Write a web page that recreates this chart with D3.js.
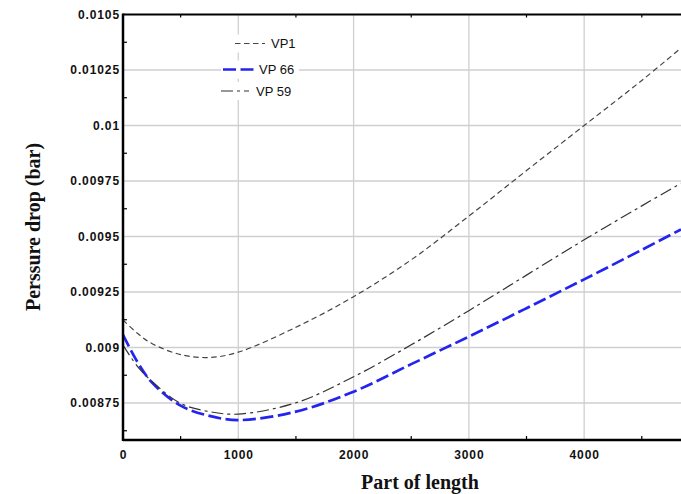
<!DOCTYPE html>
<html>
<head>
<meta charset="utf-8">
<script src="https://cdn.jsdelivr.net/npm/d3@7"></script>
<style>
  body { margin: 0; background: #fff; }
  svg { display: block; }
  .tick-label { font-family: "Liberation Sans", Arial, sans-serif; font-weight: bold; font-size: 12px; letter-spacing: 0.9px; fill: #111; }
  .axis-title { font-family: "Liberation Serif", "Times New Roman", serif; font-weight: bold; font-size: 20px; fill: #111; }
  .legend-text { font-family: "Liberation Sans", Arial, sans-serif; font-size: 13px; fill: #111; }
</style>
</head>
<body>
<svg id="chart"></svg>
<script>
//data
const xs = [0, 125, 250, 500, 750, 1000, 1500, 2000, 2500, 3000, 3500, 4000, 4500, 4840];
const vp1 = [0.009124, 0.009064, 0.009018, 0.008968, 0.008955, 0.008979, 0.009091, 0.009229, 0.009395, 0.009592, 0.009797, 0.010000, 0.010203, 0.010349];
const vp66 = [0.009057, 0.008935, 0.008843, 0.008738, 0.008692, 0.008673, 0.008711, 0.008801, 0.008925, 0.009049, 0.009177, 0.009307, 0.009440, 0.009532];
const vp59 = [0.009011, 0.008915, 0.008848, 0.008748, 0.008711, 0.008700, 0.008751, 0.008868, 0.009012, 0.009166, 0.009326, 0.009485, 0.009638, 0.009740];

const xTicks = [0, 1000, 2000, 3000, 4000];
const xTickLabels = ["0", "1000", "2000", "3000", "4000"];
const xMinorTicks = [500, 1500, 2500, 3500, 4500];
const yTicks = [0.00875, 0.009, 0.00925, 0.0095, 0.00975, 0.01, 0.01025, 0.0105];
const yTickLabels = ["0.00875", "0.009", "0.00925", "0.0095", "0.00975", "0.01", "0.01025", "0.0105"];
const yMinorTicks = [0.008625, 0.008875, 0.009125, 0.009375, 0.009625, 0.009875, 0.010125, 0.010375];

const seriesNames = ["VP1", "VP 66", "VP 59"];

//constants
const W = 681, H = 494;
const plotLeft = 123, plotRight = 681, plotTop = 14.5, plotBottom = 440;

const series = [
    {name: seriesNames[0], values: vp1, color: "#444", width: 1.2, dash: "5.5,3.5"},
    {name: seriesNames[1], values: vp66, color: "#2424ee", width: 2.7, dash: "13,4.5"},
    {name: seriesNames[2], values: vp59, color: "#333", width: 1.2, dash: "12,4,3,4"}
];

//scales
const xScale = d3.scaleLinear().domain([0, 4840]).range([plotLeft, plotRight]);
const yScale = d3.scaleLinear().domain([0.0085833, 0.0105]).range([plotBottom, plotTop]);

const svg = d3.select("#chart").attr("width", W).attr("height", H);

//clip
svg.append("clipPath").attr("id", "clip")
    .append("rect")
    .attr("x", plotLeft).attr("y", plotTop)
    .attr("width", plotRight - plotLeft).attr("height", plotBottom - plotTop);

//grid
svg.append("g").attr("class", "grid")
    .selectAll("line").data(xTicks.slice(1)).enter().append("line")
    .attr("x1", d => xScale(d)).attr("x2", d => xScale(d))
    .attr("y1", plotTop).attr("y2", plotBottom)
    .style("stroke", "#cfcfcf").style("stroke-width", 1.3);

svg.append("g").attr("class", "grid")
    .selectAll("line").data(yTicks.slice(0, -1)).enter().append("line")
    .attr("x1", plotLeft).attr("x2", plotRight)
    .attr("y1", d => yScale(d)).attr("y2", d => yScale(d))
    .style("stroke", "#cfcfcf").style("stroke-width", 1.3);

//minor ticks
svg.append("g").selectAll("line").data(xMinorTicks).enter().append("line")
    .attr("x1", d => xScale(d)).attr("x2", d => xScale(d))
    .attr("y1", plotBottom).attr("y2", plotBottom - 4)
    .style("stroke", "#000").style("stroke-width", 1.2);

svg.append("g").selectAll("line").data(xMinorTicks).enter().append("line")
    .attr("x1", d => xScale(d)).attr("x2", d => xScale(d))
    .attr("y1", plotTop).attr("y2", plotTop + 3)
    .style("stroke", "#000").style("stroke-width", 1.2);

svg.append("g").selectAll("line").data(yMinorTicks).enter().append("line")
    .attr("x1", plotLeft).attr("x2", plotLeft + 4)
    .attr("y1", d => yScale(d)).attr("y2", d => yScale(d))
    .style("stroke", "#000").style("stroke-width", 1.2);

//lines
const line = d3.line()
    .x((d, i) => xScale(xs[i]))
    .y(d => yScale(d))
    .curve(d3.curveCatmullRom.alpha(0.5));

const chart = svg.append("g").attr("clip-path", "url(#clip)");
chart.selectAll(".series").data(series).enter().append("path")
    .attr("class", "series")
    .attr("d", d => line(d.values))
    .style("fill", "none")
    .style("stroke", d => d.color)
    .style("stroke-width", d => d.width)
    .style("stroke-dasharray", d => d.dash);

//frame
svg.append("line").attr("x1", plotLeft).attr("x2", plotRight).attr("y1", plotTop).attr("y2", plotTop)
    .style("stroke", "#000").style("stroke-width", 2);
svg.append("line").attr("x1", plotLeft).attr("x2", plotRight).attr("y1", plotBottom).attr("y2", plotBottom)
    .style("stroke", "#000").style("stroke-width", 2.5);
svg.append("line").attr("x1", plotLeft).attr("x2", plotLeft).attr("y1", plotTop - 1).attr("y2", plotBottom + 1)
    .style("stroke", "#000").style("stroke-width", 2.5);

//tick labels
svg.append("g").selectAll("text").data(xTicks).enter().append("text")
    .attr("class", "tick-label")
    .attr("x", d => xScale(d) + 0.5)
    .attr("y", 459)
    .style("text-anchor", "middle")
    .text((d, i) => xTickLabels[i]);

svg.append("g").selectAll("text").data(yTicks).enter().append("text")
    .attr("class", "tick-label")
    .attr("x", 120)
    .attr("y", d => yScale(d) + 4.5)
    .style("text-anchor", "end")
    .text((d, i) => yTickLabels[i]);

//axis titles
svg.append("text").attr("class", "axis-title")
    .attr("x", 420).attr("y", 489)
    .style("text-anchor", "middle")
    .text("Part of length");

svg.append("text").attr("class", "axis-title")
    .attr("transform", "translate(40,227) rotate(-90)")
    .style("text-anchor", "middle")
    .text("Perssure drop (bar)");

//legend
const legendPos = [
    {x1: 235, x2: 265, y: 43.5, tx: 271},
    {x1: 223, x2: 255, y: 69.5, tx: 259},
    {x1: 221, x2: 249, y: 91, tx: 256}
];
const legend = svg.append("g").attr("class", "legend");
series.forEach(function(s, i) {
    const p = legendPos[i];
    const g = legend.append("g");
    g.append("rect")
        .attr("x", p.x1 - 2).attr("y", p.y - 9)
        .attr("width", p.tx - p.x1 + 42).attr("height", 18)
        .style("fill", "#fff");
    g.append("line")
        .attr("x1", p.x1).attr("x2", p.x2).attr("y1", p.y).attr("y2", p.y)
        .style("stroke", s.color)
        .style("stroke-width", s.width)
        .style("stroke-dasharray", s.dash);
    g.append("text").attr("class", "legend-text")
        .attr("x", p.tx).attr("y", p.y + 4.5)
        .text(s.name);
});
</script>
</body>
</html>
